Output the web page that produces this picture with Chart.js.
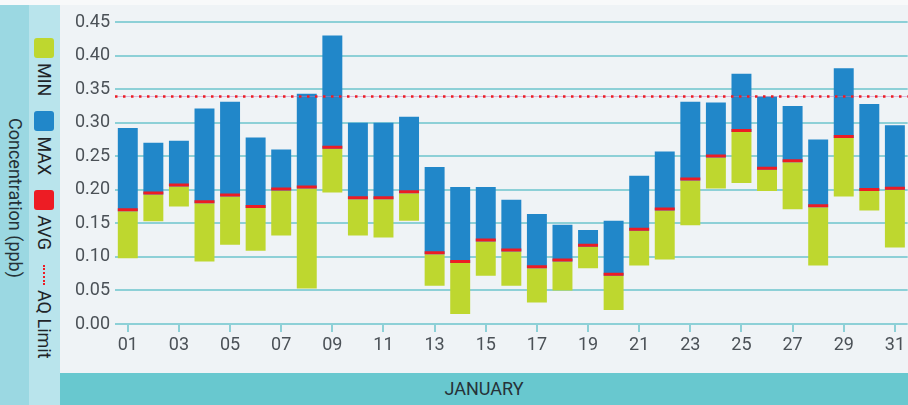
<!DOCTYPE html>
<html>
<head>
<meta charset="utf-8">
<title>January concentrations</title>
<script src="https://cdn.jsdelivr.net/npm/chart.js@4.4.1/dist/chart.umd.min.js"></script>
<style>
    html, body { margin: 0; padding: 0; background: #f8f9fa; }
    #wrap { position: relative; width: 908px; height: 405px; overflow: hidden; font-family: Roboto, sans-serif; }
    #axisTitle { position: absolute; left: 0; top: 5px; width: 29px; height: 400px; background: #9bd8e2; }
    #axisTitle span {
        position: absolute; left: 50%; top: 193px; white-space: nowrap;
        transform: translate(-50%, -50%) rotate(90deg);
        font-size: 18px; color: #263238;
    }
    #legendPanel { position: absolute; left: 29px; top: 5px; width: 31px; height: 400px; background: #b9e4ec; }
    #legendRow {
        position: absolute; left: 31px; top: 33px; height: 31px;
        display: flex; align-items: center; white-space: nowrap;
        transform-origin: 0 0; transform: rotate(90deg);
    }
    .item { display: flex; align-items: center; margin-right: 15px; font-size: 18px; color: #1f2428; }
    .swatch { width: 20px; height: 20px; border-radius: 3px; margin-right: 5px; }
    .dots { width: 20px; height: 0; border-top: 2px dotted #ed1c24; margin-right: 5px; }
    #plot { position: absolute; left: 60px; top: 5px; width: 848px; height: 368px; background: #eff3f6; }
    #month {
        position: absolute; left: 60px; top: 373px; width: 848px; height: 32px; line-height: 32px;
        background: #68c8cf; text-align: center; font-size: 18px; color: #263238;
    }
</style>
</head>
<body>
<div id="wrap">
    <div id="axisTitle"><span>Concentration (ppb)</span></div>
    <div id="legendPanel"><div id="legendRow"></div></div>
    <div id="plot"><canvas id="concChart"></canvas></div>
    <div id="month">JANUARY</div>
</div>
<script>
    const days = ['01', '02', '03', '04', '05', '06', '07', '08', '09', '10',
        '11', '12', '13', '14', '15', '16', '17', '18', '19', '20',
        '21', '22', '23', '24', '25', '26', '27', '28', '29', '30', '31'];
    const minVals = [0.098, 0.153, 0.175, 0.093, 0.118, 0.109, 0.132, 0.053, 0.196, 0.132,
        0.129, 0.154, 0.057, 0.015, 0.072, 0.057, 0.032, 0.050, 0.083, 0.021,
        0.087, 0.096, 0.147, 0.202, 0.210, 0.198, 0.171, 0.087, 0.190, 0.169, 0.114];
    const avgVals = [0.168, 0.193, 0.205, 0.180, 0.190, 0.173, 0.199, 0.202, 0.261, 0.186,
        0.186, 0.195, 0.104, 0.091, 0.123, 0.108, 0.083, 0.093, 0.115, 0.072,
        0.139, 0.169, 0.214, 0.248, 0.286, 0.230, 0.241, 0.174, 0.277, 0.198, 0.200];
    const maxVals = [0.292, 0.270, 0.273, 0.321, 0.331, 0.278, 0.260, 0.343, 0.430, 0.300,
        0.300, 0.309, 0.234, 0.204, 0.204, 0.185, 0.164, 0.148, 0.140, 0.154,
        0.221, 0.257, 0.331, 0.330, 0.373, 0.339, 0.325, 0.275, 0.381, 0.328, 0.296];
    const yTicks = [0, 0.05, 0.10, 0.15, 0.20, 0.25, 0.30, 0.35, 0.40, 0.45];
    const aqLimit = 0.34;

    const green = '#bed72f';
    const blue = '#2187c9';
    const red = '#ed1c24';
    const gridColor = '#8dd0d7';
    const tickText = '#4b5157';

    // legend (rotated, lives in the side panel)
    const legendItems = [
        { label: 'MIN', color: green },
        { label: 'MAX', color: blue },
        { label: 'AVG', color: red },
        { label: 'AQ Limit', dotted: true }
    ];
    const legendRow = document.getElementById('legendRow');
    legendItems.forEach(function (it) {
        const el = document.createElement('div');
        el.className = 'item';
        const mark = document.createElement('span');
        if (it.dotted) {
            mark.className = 'dots';
        } else {
            mark.className = 'swatch';
            mark.style.background = it.color;
        }
        el.appendChild(mark);
        el.appendChild(document.createTextNode(it.label));
        legendRow.appendChild(el);
    });

    // dotted AQ limit line across the plot area
    const limitLine = {
        id: 'limitLine',
        afterDatasetsDraw(chart) {
            const { ctx, chartArea, scales } = chart;
            const y = Math.round(scales.y.getPixelForValue(aqLimit)) + 0.5;
            ctx.save();
            ctx.strokeStyle = 'rgba(190, 120, 190, 0.45)';
            ctx.lineWidth = 1;
            ctx.beginPath();
            ctx.moveTo(chartArea.left, y);
            ctx.lineTo(chartArea.right, y);
            ctx.stroke();
            ctx.strokeStyle = red;
            ctx.lineWidth = 2.5;
            ctx.setLineDash([2.5, 5.5]);
            ctx.beginPath();
            ctx.moveTo(chartArea.left, y);
            ctx.lineTo(chartArea.right, y);
            ctx.stroke();
            ctx.restore();
        }
    };

    const ctx = document.getElementById('concChart').getContext('2d');
    new Chart(ctx, {
        type: 'bar',
        data: {
            labels: days,
            datasets: [{
                label: 'AVG',
                data: avgVals.map(v => [v, v]),
                backgroundColor: red,
                minBarLength: 3,
                order: 0
            }, {
                label: 'MAX',
                data: avgVals.map((v, i) => [v, maxVals[i]]),
                backgroundColor: blue,
                order: 1
            }, {
                label: 'MIN',
                data: minVals.map((v, i) => [v, avgVals[i]]),
                backgroundColor: green,
                order: 2
            }]
        },
        options: {
            responsive: true,
            maintainAspectRatio: false,
            animation: false,
            layout: { padding: { top: 17, left: 0, right: 0, bottom: 0 } },
            datasets: {
                bar: { grouped: false, categoryPercentage: 1, barPercentage: 0.78, borderWidth: 0 }
            },
            plugins: {
                legend: { display: false },
                tooltip: { enabled: false }
            },
            scales: {
                x: {
                    offset: true,
                    border: { display: false },
                    grid: { offset: false, drawOnChartArea: false, drawTicks: true, tickLength: 8, color: gridColor, lineWidth: 2 },
                    ticks: {
                        autoSkip: false, maxRotation: 0, padding: 3, color: tickText,
                        font: { family: 'Roboto', size: 18 }
                    },
                    afterBuildTicks: function (scale) {
                        scale.ticks = scale.ticks.filter((t, i) => i % 2 === 0);
                    },
                    afterFit: function (scale) { scale.height = 49; }
                },
                y: {
                    min: 0,
                    max: 0.45,
                    border: { display: false },
                    grid: { color: gridColor, lineWidth: 2, drawTicks: false },
                    ticks: {
                        padding: 5, color: tickText,
                        font: { family: 'Roboto', size: 18 },
                        callback: v => v.toFixed(2)
                    },
                    afterBuildTicks: function (scale) {
                        scale.ticks = yTicks.map(v => ({ value: v }));
                    },
                    afterFit: function (scale) { scale.width = 55; }
                }
            }
        },
        plugins: [limitLine]
    });
</script>
</body>
</html>
